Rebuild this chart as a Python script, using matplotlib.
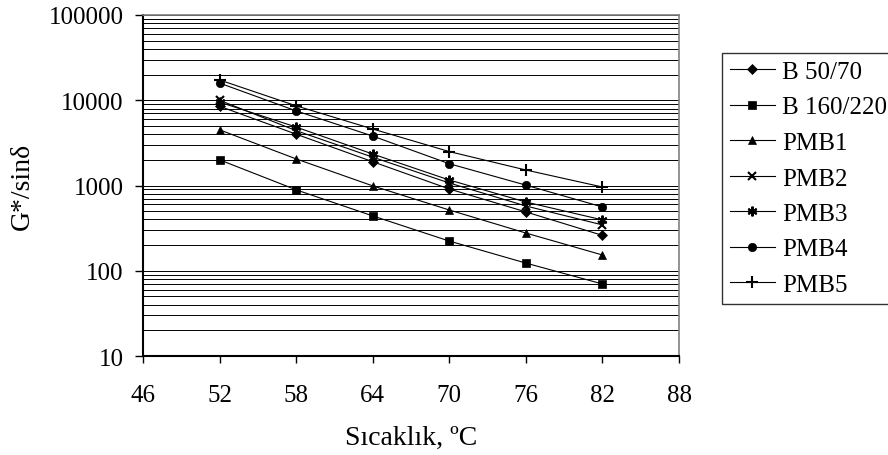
import numpy as np
import matplotlib
matplotlib.use("Agg")
import matplotlib.pyplot as plt
from matplotlib.ticker import LogLocator, FuncFormatter, NullFormatter

plt.rcParams['font.family'] = ['Liberation Serif', 'DejaVu Serif']

# data
temps = [52, 58, 64, 70, 76, 82]
b50_70 = [8500, 4000, 1900, 910, 490, 260]
b160_220 = [2000, 890, 440, 223, 123, 70]
pmb1 = [4500, 2050, 990, 516, 277, 153]
pmb2 = [10000, 4400, 2150, 1070, 575, 345]
pmb3 = [9500, 4850, 2340, 1160, 640, 395]
pmb4 = [15900, 7500, 3800, 1800, 1010, 560]
pmb5 = [17300, 8600, 4600, 2500, 1520, 960]

names = ["B 50/70", "B 160/220", "PMB1", "PMB2", "PMB3", "PMB4", "PMB5"]
series = [b50_70, b160_220, pmb1, pmb2, pmb3, pmb4, pmb5]
markers = ["D", "s", "^", "x", (6, 2, 0), "o", "+"]
msizes = [5, 6, 6, 6, 7, 6, 8]

fig = plt.figure(figsize=(8.88, 4.56), dpi=100)
ax = fig.add_axes([143/888, 1-357/456, 536/888, 341/456])

for vals, nm, mk, ms in zip(series, names, markers, msizes):
    ax.plot(temps, vals, color="black", lw=0.8, marker=mk, markersize=ms,
            markeredgewidth=1.5 if mk in ("x", "+") or isinstance(mk, tuple) else 0.5,
            markerfacecolor="black", markeredgecolor="black", label=nm)

ax.set_yscale("log")
ax.set_ylim(10, 100000)
ax.set_xlim(46, 88)
ax.set_xticks(np.arange(46, 89, 6))
ax.yaxis.set_major_locator(LogLocator(base=10, numticks=10))
ax.yaxis.set_minor_locator(LogLocator(base=10, subs=np.arange(2, 10), numticks=50))
ax.yaxis.set_major_formatter(FuncFormatter(lambda v, p: "%d" % v))
ax.yaxis.set_minor_formatter(NullFormatter())
ax.grid(True, which="both", axis="y", color="black", lw=0.7)
ax.tick_params(axis="y", which="minor", length=0)
ax.tick_params(axis="x", which="major", direction="out", length=5, width=1,
               labelsize=18, pad=15)
ax.tick_params(axis="y", which="major", direction="out", length=6, width=1,
               labelsize=18, pad=8)

for s in ["left", "bottom"]:
    ax.spines[s].set_linewidth(1.5)
for s in ["right", "top"]:
    ax.spines[s].set_color("#808080")
    ax.spines[s].set_linewidth(1.2)

ax.set_ylabel("G*/sinδ", fontsize=20, labelpad=10)
ax.set_xlabel("Sıcaklık, ºC", fontsize=20, labelpad=14)

leg = fig.legend(loc="upper left", bbox_to_anchor=(722/888, 1-54/456),
                 fontsize=18, frameon=True, fancybox=False, edgecolor="black",
                 handlelength=1.8, handletextpad=0.3, borderpad=0.3,
                 labelspacing=0.52, borderaxespad=0)
leg.get_frame().set_linewidth(1.0)

fig.savefig("out.png", dpi=100)
